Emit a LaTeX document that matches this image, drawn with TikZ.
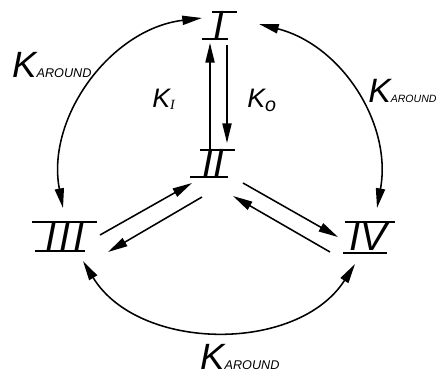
\documentclass[tikz,border=0pt]{standalone}
\usepackage{fontspec}
\setmainfont{Liberation Sans}
\newfontfamily\seriffont{Liberation Serif}
\usepackage{tikz}
\usetikzlibrary{arrows.meta,calc}

\tikzset{
  numeral/.style={font=\fontsize{28}{28}\selectfont\itshape, inner sep=0pt},
  bar/.style={line width=1.1pt},
  link/.style={line width=1.1pt, -{Triangle[length=14pt,width=6.5pt]}},
  around/.style={line width=1.1pt, {Triangle[length=14pt,width=6.5pt]}-{Triangle[length=14pt,width=6.5pt]}},
  rate/.style={anchor=base west, font=\itshape, inner sep=0pt}
}

\begin{document}
\begin{tikzpicture}[x=0.025cm, y=0.025cm]
  \useasboundingbox (0,0) rectangle (440,-376);
  % States
  \node[numeral] (n1) at (219,-25) {I};
  \node[numeral] (n2) at (213,-163) {II};
  \node[numeral] (n3) at (65,-237) {I\kern2pt I\kern2pt I};
  \node[numeral] (n4) at (368,-237) {IV};
  % Bars above and below the numerals
  \draw[bar] ([shift={(-7,13)}]n1.center) -- ([shift={(18,13)}]n1.center);
  \draw[bar] ([shift={(-17,-14)}]n1.center) -- ([shift={(9,-14)}]n1.center);
  \draw[bar] ([shift={(-13,13)}]n2.center) -- ([shift={(22,13)}]n2.center);
  \draw[bar] ([shift={(-23,-14)}]n2.center) -- ([shift={(15,-14)}]n2.center);
  \draw[bar] ([shift={(-33,15)}]n3.center) -- ([shift={(32,15)}]n3.center);
  \draw[bar] ([shift={(-30,-14)}]n3.center) -- ([shift={(20,-14)}]n3.center);
  \draw[bar] ([shift={(-23,15)}]n4.center) -- ([shift={(27,15)}]n4.center);
  \draw[bar] ([shift={(-25,-16)}]n4.center) -- ([shift={(19,-16)}]n4.center);
  % I <-> II
  \draw[link] ([shift={(-3,13)}]n2.center) -- ([shift={(-9,-18)}]n1.center);
  \draw[link] ([shift={(8,-20)}]n1.center) -- ([shift={(14,20)}]n2.center);
  % II <-> III
  \draw[link] ([shift={(35,2)}]n3.center) -- ([shift={(-21,-20)}]n2.center);
  \draw[link] ([shift={(-11,-34)}]n2.center) -- ([shift={(43,-15)}]n3.center);
  % II <-> IV
  \draw[link] ([shift={(30,-20)}]n2.center) -- ([shift={(-30,0)}]n4.center);
  \draw[link] ([shift={(-38,-15)}]n4.center) -- ([shift={(20,-33)}]n2.center);
  % Outer arcs
  \draw[around] ([shift={(-2,29)}]n3.center) to[bend left=47] ([shift={(-17,7)}]n1.center);
  \draw[around] ([shift={(40,1)}]n1.center) to[bend left=43] ([shift={(9,29)}]n4.center);
  \draw[around] ([shift={(-13,-27)}]n4.center) to[bend left=58] ([shift={(18,-24)}]n3.center);
  % Rate labels
  \node[rate] (kleft) at (12,-77) {{\fontsize{26}{26}\selectfont K}{\fontsize{9}{9}\selectfont AROUND}};
  \node[rate] (kright) at (368,-102) {{\fontsize{24}{24}\selectfont K}{\fontsize{7.5}{8}\selectfont AROUND}};
  \node[rate] (kbottom) at (200,-369) {{\fontsize{26}{26}\selectfont K}{\fontsize{9}{9}\selectfont AROUND}};
  \node[rate] (kin) at (152,-107) {{\fontsize{19}{19}\selectfont K}\raisebox{-2pt}{\fontsize{10}{10}\selectfont\seriffont I}};
  \node[rate] (kout) at (247,-107) {{\fontsize{19}{19}\selectfont K}\raisebox{-3pt}{\fontsize{14}{14}\selectfont o}};
\end{tikzpicture}
\end{document}
